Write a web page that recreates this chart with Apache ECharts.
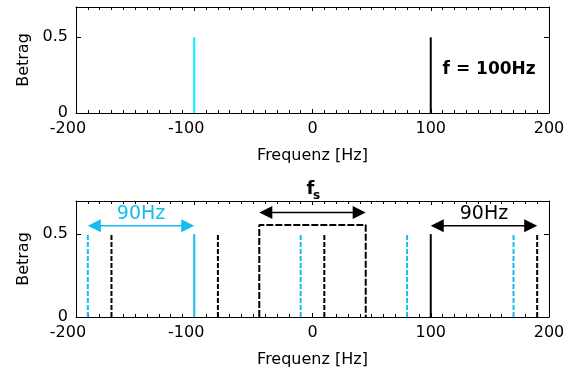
<!DOCTYPE html>
<html><head><meta charset="utf-8">
<script src="https://cdn.jsdelivr.net/npm/echarts@6/dist/echarts.min.js"></script>
<style>html,body{margin:0;padding:0;background:#fff}#c{width:567px;height:373px}</style>
</head><body><div id="c"></div>
<script>
// ---------- data ----------
// x axis ticks (Hz) and y axis ticks (Betrag)
const xMin = -200, xMax = 200, xStep = 100;
const yMin = 0, yMax = 0.7, yStep = 0.5;
const yTickLabels = [0, 0.5];

// top panel: original spectrum f = 100 Hz
const topPosFreq = [100];
const topNegFreq = [-100];
const topAmp = [0.5];

// bottom panel: sampled spectrum (fs = 90 Hz)
const botPosSolidFreq = [100];
const botPosAliasFreq = [-170, -80, 10, 190];
const botNegSolidFreq = [-100];
const botNegAliasFreq = [-190, -10, 80, 170];
const botAmp = 0.5;

// fs window (dashed rectangle)
const windowX = [-45, -45, 45, 45];
const windowY = [0, 0.555, 0.555, 0];

// arrows: [from, to, level]
const cyanArrows = [[-190, -100, 0.55]];
const blackArrows = [[100, 190, 0.55], [-45, 45, 0.63]];

// annotations
const cyanLabelText = ['90Hz'], cyanLabelX = [-145], cyanLabelY = [0.62];
const blackLabelText = ['90Hz'], blackLabelX = [145], blackLabelY = [0.62];
const topLabelText = ['f = 100Hz'], topLabelX = [110], topLabelY = [0.29];
const fsLabelX = [0], fsLabelY = [0.77];

// ---------- styles ----------
const FONT = '"DejaVu Sans", sans-serif';
const CYAN_TOP = '#00f0ff';
const CYAN_BOT = '#14bdee';
const BLACK = '#000';

function stems(freqs, amps) {
  return freqs.map((f, i) => [f, Array.isArray(amps) ? amps[i] : amps]);
}
function stemRender(color, dash) {
  return function (params, api) {
    const p0 = api.coord([api.value(0), 0]);
    const p1 = api.coord([api.value(0), api.value(1)]);
    return {type: 'line', shape: {x1: p0[0], y1: p0[1], x2: p1[0], y2: p1[1]},
      style: {stroke: color, lineWidth: 2, lineDash: dash || null}};
  };
}
function arrowRender(color) {
  return function (params, api) {
    const a = api.coord([api.value(0), api.value(2)]);
    const b = api.coord([api.value(1), api.value(2)]);
    const L = 13, W = 6.5;
    return {type: 'group', children: [
      {type: 'line', shape: {x1: a[0] + L - 1, y1: a[1], x2: b[0] - L + 1, y2: b[1]}, style: {stroke: color, lineWidth: 1.5}},
      {type: 'polygon', shape: {points: [[a[0], a[1]], [a[0] + L, a[1] - W], [a[0] + L, a[1] + W]]}, style: {fill: color}},
      {type: 'polygon', shape: {points: [[b[0], b[1]], [b[0] - L, b[1] - W], [b[0] - L, b[1] + W]]}, style: {fill: color}}
    ]};
  };
}
function textRender(texts, color, font, align) {
  return function (params, api) {
    const p = api.coord([api.value(0), api.value(1)]);
    return {type: 'text', x: p[0], y: p[1],
      style: {text: texts[params.dataIndex], fill: color, font: font, align: align || 'center', verticalAlign: 'middle'}};
  };
}
function zip(xs, ys) { return xs.map((x, i) => [x, ys[i]]); }

function xAxes(gi) {
  const common = {
    gridIndex: gi, type: 'value', min: xMin, max: xMax, interval: xStep,
    axisLine: {show: true, onZero: false, lineStyle: {color: BLACK, width: 1}},
    axisTick: {show: true, inside: true, length: 4, lineStyle: {color: BLACK}},
    minorTick: {show: true, splitNumber: 10, length: 3, lineStyle: {color: BLACK}},
    splitLine: {show: false}, minorSplitLine: {show: false}
  };
  return [
    Object.assign({}, common, {
      position: 'bottom',
      axisLabel: {show: true, margin: 8, fontSize: 16, fontFamily: FONT, color: BLACK,
        formatter: v => v < 0 ? '{n|' + v + '}' : String(v),
        rich: {n: {padding: [0, 16, 0, 0], fontSize: 16, fontFamily: FONT, color: BLACK}}},
      name: 'Frequenz [Hz]', nameLocation: 'middle', nameGap: 35,
      nameTextStyle: {fontSize: 16, fontFamily: FONT, color: BLACK}
    }),
    Object.assign({}, common, {position: 'top', axisLabel: {show: false}})
  ];
}
function yAxes(gi) {
  const common = {
    gridIndex: gi, type: 'value', min: yMin, max: yMax, interval: yStep,
    axisLine: {show: true, onZero: false, lineStyle: {color: BLACK, width: 1}},
    axisTick: {show: true, inside: true, length: 5, lineStyle: {color: BLACK}},
    splitLine: {show: false}
  };
  return [
    Object.assign({}, common, {
      position: 'left',
      axisLabel: {show: true, margin: 8, fontSize: 16, fontFamily: FONT, color: BLACK,
        formatter: v => yTickLabels.some(t => Math.abs(t - v) < 1e-9) ? String(v) : ''},
      name: 'Betrag', nameLocation: 'middle', nameGap: 43, nameRotate: 90,
      nameTextStyle: {fontSize: 16, fontFamily: FONT, color: BLACK}
    }),
    Object.assign({}, common, {position: 'right', axisLabel: {show: false}})
  ];
}

const chart = echarts.init(document.getElementById('c'), null, {renderer: 'canvas'});
chart.setOption({
  animation: false,
  backgroundColor: '#fff',
  grid: [
    {left: 76, top: 7, width: 473, height: 106, outerBoundsMode: 'none', containLabel: false},
    {left: 76, top: 201, width: 473, height: 116, outerBoundsMode: 'none', containLabel: false}
  ],
  xAxis: xAxes(0).concat(xAxes(1)),
  yAxis: yAxes(0).concat(yAxes(1)),
  series: [
    // top panel
    {type: 'custom', xAxisIndex: 0, yAxisIndex: 0, data: stems(topNegFreq, topAmp), renderItem: stemRender(CYAN_TOP)},
    {type: 'custom', xAxisIndex: 0, yAxisIndex: 0, data: stems(topPosFreq, topAmp), renderItem: stemRender(BLACK)},
    {type: 'custom', xAxisIndex: 0, yAxisIndex: 0, data: zip(topLabelX, topLabelY),
      renderItem: textRender(topLabelText, BLACK, 'bold 17px ' + FONT, 'left')},
    // bottom panel
    {type: 'line', xAxisIndex: 2, yAxisIndex: 2, data: zip(windowX, windowY), showSymbol: false, symbol: 'none',
      lineStyle: {color: BLACK, width: 2, type: [7, 2]}},
    {type: 'custom', xAxisIndex: 2, yAxisIndex: 2, data: stems(botNegAliasFreq, botAmp), renderItem: stemRender(CYAN_BOT, [5, 2])},
    {type: 'custom', xAxisIndex: 2, yAxisIndex: 2, data: stems(botPosAliasFreq, botAmp), renderItem: stemRender(BLACK, [5, 2])},
    {type: 'custom', xAxisIndex: 2, yAxisIndex: 2, data: stems(botNegSolidFreq, botAmp), renderItem: stemRender(CYAN_BOT)},
    {type: 'custom', xAxisIndex: 2, yAxisIndex: 2, data: stems(botPosSolidFreq, botAmp), renderItem: stemRender(BLACK)},
    {type: 'custom', xAxisIndex: 2, yAxisIndex: 2, data: cyanArrows, renderItem: arrowRender(CYAN_BOT)},
    {type: 'custom', xAxisIndex: 2, yAxisIndex: 2, data: blackArrows, renderItem: arrowRender(BLACK)},
    {type: 'custom', xAxisIndex: 2, yAxisIndex: 2, data: zip(cyanLabelX, cyanLabelY),
      renderItem: textRender(cyanLabelText, CYAN_BOT, '19px ' + FONT)},
    {type: 'custom', xAxisIndex: 2, yAxisIndex: 2, data: zip(blackLabelX, blackLabelY),
      renderItem: textRender(blackLabelText, BLACK, '19px ' + FONT)},
    {type: 'custom', xAxisIndex: 2, yAxisIndex: 2, data: zip(fsLabelX, fsLabelY),
      renderItem: function (params, api) {
        const p = api.coord([api.value(0), api.value(1)]);
        return {type: 'group', children: [
          {type: 'text', x: p[0] - 2, y: p[1], style: {text: 'f', fill: BLACK, font: 'bold 18px ' + FONT, align: 'center', verticalAlign: 'middle'}},
          {type: 'text', x: p[0] + 4, y: p[1] + 6, style: {text: 's', fill: BLACK, font: 'bold 12px ' + FONT, align: 'center', verticalAlign: 'middle'}}
        ]};
      }}
  ]
});
</script>
</body></html>
